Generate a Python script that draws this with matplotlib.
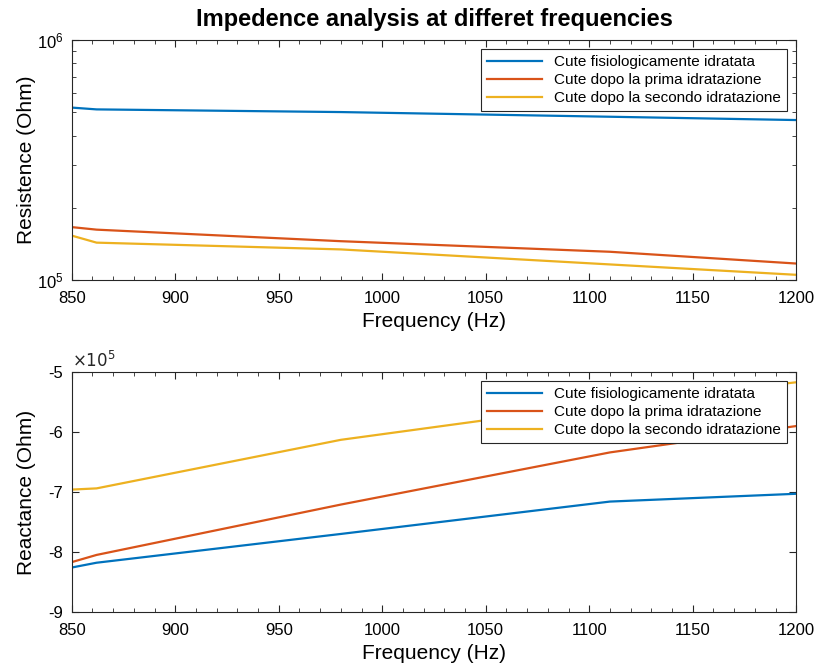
import numpy as np
import matplotlib
matplotlib.use("Agg")
import matplotlib.pyplot as plt
from matplotlib.ticker import MultipleLocator, NullFormatter, FuncFormatter

plt.rcParams['font.family'] = ['Liberation Sans', 'DejaVu Sans']
plt.rcParams['axes.unicode_minus'] = False

# frequenze di misura (Hz)
freq = [850, 862, 980, 1110, 1200]

# resistenza (Ohm)
res_fisio = [523e3, 514e3, 501e3, 479e3, 464e3]
res_prima = [166e3, 162e3, 145e3, 131e3, 117e3]
res_seconda = [153e3, 143e3, 134e3, 116e3, 105e3]

# reattanza (Ohm)
reac_fisio = [-8.26e5, -8.18e5, -7.70e5, -7.16e5, -7.03e5]
reac_prima = [-8.17e5, -8.05e5, -7.21e5, -6.34e5, -5.90e5]
reac_seconda = [-6.96e5, -6.94e5, -6.13e5, -5.52e5, -5.17e5]

labels = ['Cute fisiologicamente idratata',
          'Cute dopo la prima idratazione',
          'Cute dopo la secondo idratazione']
colors = ['#0072BD', '#D95319', '#EDB120']

fig = plt.figure(figsize=(8.15, 6.68), dpi=100)
ax1 = fig.add_axes([0.088, 0.581, 0.889, 0.359])
ax2 = fig.add_axes([0.088, 0.084, 0.889, 0.359])

for y, c, l in zip([res_fisio, res_prima, res_seconda], colors, labels):
    ax1.plot(freq, y, color=c, lw=1.6, label=l)
ax1.set_yscale('log')
ax1.set_ylim(1e5, 1e6)
ax1.yaxis.set_minor_formatter(NullFormatter())
ax1.set_ylabel('Resistence (Ohm)', fontsize=15)

for y, c, l in zip([reac_fisio, reac_prima, reac_seconda], colors, labels):
    ax2.plot(freq, y, color=c, lw=1.6, label=l)
ax2.set_ylim(-9e5, -5e5)
ax2.yaxis.set_major_locator(MultipleLocator(1e5))
ax2.yaxis.set_major_formatter(FuncFormatter(lambda v, p: '%d' % round(v / 1e5)))
ax2.text(0.0, 1.01, r'$\times 10^{5}$', transform=ax2.transAxes, fontsize=12,
         ha='left', va='bottom', color='#262626')
ax2.set_ylabel('Reactance (Ohm)', fontsize=15)

for ax in (ax1, ax2):
    ax.set_xlim(850, 1200)
    ax.xaxis.set_major_locator(MultipleLocator(50))
    ax.xaxis.set_minor_locator(MultipleLocator(10))
    ax.set_xlabel('Frequency (Hz)', fontsize=15, labelpad=4)
    ax.yaxis.set_label_coords(-0.049, 0.5)
    ax.tick_params(which='both', direction='in', top=True, right=True, labelsize=12,
                   colors='#262626', labelcolor='black')
    ax.tick_params(axis='x', which='major', pad=8)
    ax.tick_params(axis='y', which='major', pad=6)
    ax.tick_params(which='major', length=5)
    ax.tick_params(which='minor', length=3)
    for s in ax.spines.values():
        s.set_linewidth(0.8)
        s.set_color('#262626')
    leg = ax.legend(loc='upper right', fontsize=11, frameon=True, fancybox=False,
                    edgecolor='#262626', framealpha=1, handlelength=3.6,
                    borderaxespad=0.6, labelspacing=0.25, borderpad=0.4)
    leg.get_frame().set_linewidth(0.8)

ax1.set_title('Impedence analysis at differet frequencies', fontsize=17, fontweight='bold', pad=10)

fig.savefig('out.png', dpi=100)
